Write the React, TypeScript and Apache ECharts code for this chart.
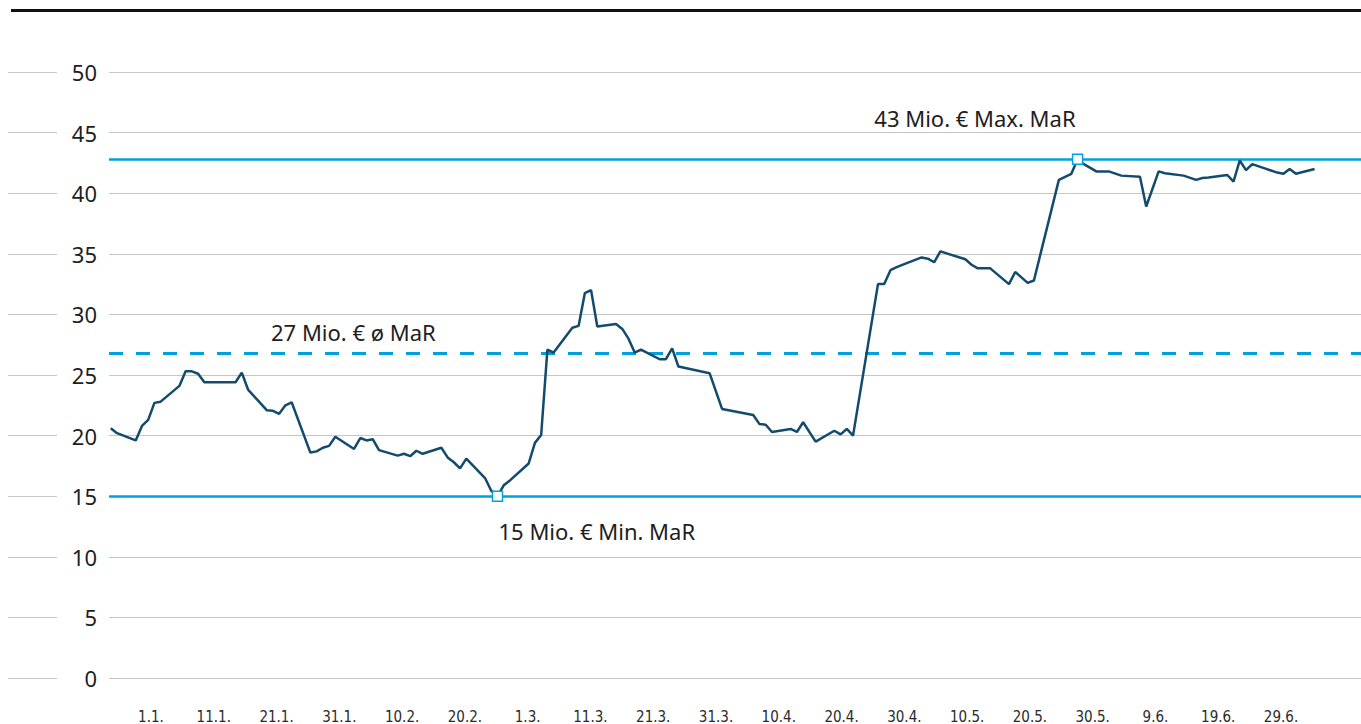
import React, { useEffect, useRef } from "react";
import * as echarts from "echarts";

// Day offsets relative to 1 Jan 2020 and Market-at-Risk values (Mio. €)
const DAYS = [
  -6, -5, -2, -1, 0, 1, 2,
  5, 6, 7, 8, 9,
  12, 13, 14, 15, 16,
  19, 20, 21, 22, 23,
  26, 27, 28, 29, 30,
  33, 34, 35, 36, 37,
  40, 41, 42, 43, 44,
  47, 48, 49, 50, 51,
  54, 55, 56, 57, 58,
  61, 62, 63, 64, 65,
  68, 69, 70, 71, 72,
  75, 76, 77, 78, 79,
  82, 83, 84, 85,
  90, 92,
  97, 98, 99, 100,
  103, 104, 105, 107,
  110, 111, 112, 113,
  117, 118, 119, 120, 121,
  124, 125, 126, 127,
  131, 132, 133, 135,
  138, 139, 141, 142,
  146, 148, 149, 150, 152, 154, 156,
  159, 160, 162, 163, 166, 168, 169, 170,
  173, 174, 175, 176, 177, 179, 181, 182, 183, 184, 187,
];

const MAR = [
  20.6, 20.2, 19.6, 20.8, 21.3, 22.7, 22.8,
  24.1, 25.3, 25.3, 25.1, 24.4,
  24.4, 24.4, 24.4, 25.2, 23.8,
  22.1, 22.05, 21.8, 22.5, 22.75,
  18.6, 18.7, 19.0, 19.15, 19.9,
  18.9, 19.8, 19.6, 19.7, 18.8,
  18.35, 18.5, 18.3, 18.75, 18.5,
  19.0, 18.2, 17.8, 17.3, 18.1,
  16.5, 15.45, 15.0, 15.9, 16.3,
  17.7, 19.4, 20.05, 27.1, 26.85,
  28.9, 29.05, 31.75, 32.0, 29.0,
  29.2, 28.8, 28.0, 26.85, 27.1,
  26.3, 26.3, 27.2, 25.7,
  25.15, 22.2,
  21.7, 20.95, 20.9, 20.3,
  20.55, 20.3, 21.1, 19.5,
  20.4, 20.1, 20.55, 20.0,
  32.5, 32.5, 33.65, 33.9, 34.1,
  34.7, 34.6, 34.3, 35.2,
  34.55, 34.1, 33.8, 33.8,
  32.5, 33.5, 32.6, 32.8,
  41.1, 41.6, 42.8, 42.4, 41.8, 41.8, 41.45,
  41.35, 38.9, 41.8, 41.65, 41.45, 41.1, 41.25, 41.3,
  41.5, 40.95, 42.7, 41.9, 42.4, 42.05, 41.7, 41.6, 42.0, 41.6, 42.0,
];

const AVG_MAR = 26.8;

const X_TICK_LABELS = [
  "1.1.", "11.1.", "21.1.", "31.1.", "10.2.", "20.2.", "1.3.", "11.3.", "21.3.",
  "31.3.", "10.4.", "20.4.", "30.4.", "10.5.", "20.5.", "30.5.", "9.6.", "19.6.", "29.6.",
];

const Y_MIN = 0;
const Y_MAX = 50;
const Y_STEP = 5;

// styling
const DARK = "#124b6c";
const BLUE = "#00a0e1";
const GRID = "#c6c6c6";
const TEXT = "#1e1e1e";
const FONT = "'Noto Sans', 'Open Sans', sans-serif";
const NARROW = "'Liberation Sans Narrow', 'DejaVu Sans Condensed', 'Roboto Condensed', 'Noto Sans', sans-serif";

const TOP = 72;
const PLOT_H = 606;
const X_MIN = -6.2846;
const X_MAX = 194.437;

export default function App() {
  const ref = useRef<HTMLDivElement>(null);

  useEffect(() => {
    if (!ref.current) return;
    const chart = echarts.init(ref.current, undefined, { renderer: "svg" });
    const seriesData = DAYS.map((d, i) => [d, MAR[i]]);

    chart.setOption({
      animation: false,
      backgroundColor: "#ffffff",
      graphic: [
        {
          type: "rect",
          x: 11,
          y: 9,
          shape: { width: 1350, height: 3 },
          style: { fill: "#111111" },
        },
      ],
      grid: [
        { left: 109, right: 0, top: TOP, height: PLOT_H },
        { left: 8, width: 49, top: TOP, height: PLOT_H },
        { left: 119.6, width: 1192.8, top: TOP, height: PLOT_H },
      ],
      xAxis: [
        { type: "value", gridIndex: 0, min: X_MIN, max: X_MAX, show: false },
        { type: "value", gridIndex: 1, min: 0, max: 1, show: false },
        {
          type: "category",
          gridIndex: 2,
          data: X_TICK_LABELS,
          boundaryGap: true,
          axisLine: { show: false },
          axisTick: { show: false },
          splitLine: { show: false },
          axisLabel: {
            interval: 0,
            margin: 31,
            fontSize: 15,
            color: "#2a2a2a",
            fontFamily: NARROW,
          },
        },
      ],
      yAxis: [
        {
          type: "value",
          gridIndex: 0,
          min: Y_MIN,
          max: Y_MAX,
          interval: Y_STEP,
          axisLine: { show: false },
          axisTick: { show: false },
          splitLine: { show: true, lineStyle: { color: GRID, width: 1 } },
          axisLabel: { margin: 12, fontSize: 22, color: TEXT, fontFamily: FONT },
        },
        {
          type: "value",
          gridIndex: 1,
          min: Y_MIN,
          max: Y_MAX,
          interval: Y_STEP,
          axisLine: { show: false },
          axisTick: { show: false },
          axisLabel: { show: false },
          splitLine: { show: true, lineStyle: { color: GRID, width: 1 } },
        },
        { type: "value", gridIndex: 2, show: false },
      ],
      series: [
        {
          type: "line",
          xAxisIndex: 0,
          yAxisIndex: 0,
          data: seriesData,
          showSymbol: false,
          symbol: "none",
          clip: false,
          z: 3,
          lineStyle: { color: DARK, width: 2.5 },
          markLine: {
            silent: true,
            symbol: ["none", "none"],
            z: 2,
            data: [
              { type: "max", lineStyle: { color: BLUE, width: 2.5, type: "solid" }, label: { show: false } },
              { type: "min", lineStyle: { color: BLUE, width: 2.5, type: "solid" }, label: { show: false } },
              {
                yAxis: AVG_MAR,
                lineStyle: { color: BLUE, width: 3, type: [14, 13] },
                label: {
                  show: true,
                  position: "insideStartTop",
                  distance: [162, 10],
                  formatter: () => `${Math.round(AVG_MAR)} Mio. € ø MaR`,
                  color: TEXT,
                  fontSize: 22,
                  fontFamily: FONT,
                },
              },
            ],
          },
          markPoint: {
            silent: true,
            symbol: "rect",
            symbolSize: 10,
            z: 5,
            itemStyle: { color: "#ffffff", borderColor: BLUE, borderWidth: 1.5 },
            label: { show: true, color: TEXT, fontSize: 22, fontFamily: FONT },
            data: [
              {
                type: "max",
                label: {
                  position: "inside",
                  align: "right",
                  verticalAlign: "middle",
                  offset: [-2, -41],
                  formatter: (p: any) => `${Math.round(p.value)} Mio. € Max. MaR`,
                },
              },
              {
                type: "min",
                label: {
                  position: "inside",
                  align: "left",
                  verticalAlign: "middle",
                  offset: [1, 35],
                  formatter: (p: any) => `${Math.round(p.value)} Mio. € Min. MaR`,
                },
              },
            ],
          },
        },
      ],
    });

    return () => chart.dispose();
  }, []);

  return (
    <div
      ref={ref}
      style={{ position: "absolute", left: 0, top: 0, width: 1361, height: 724, background: "#fff" }}
    />
  );
}
